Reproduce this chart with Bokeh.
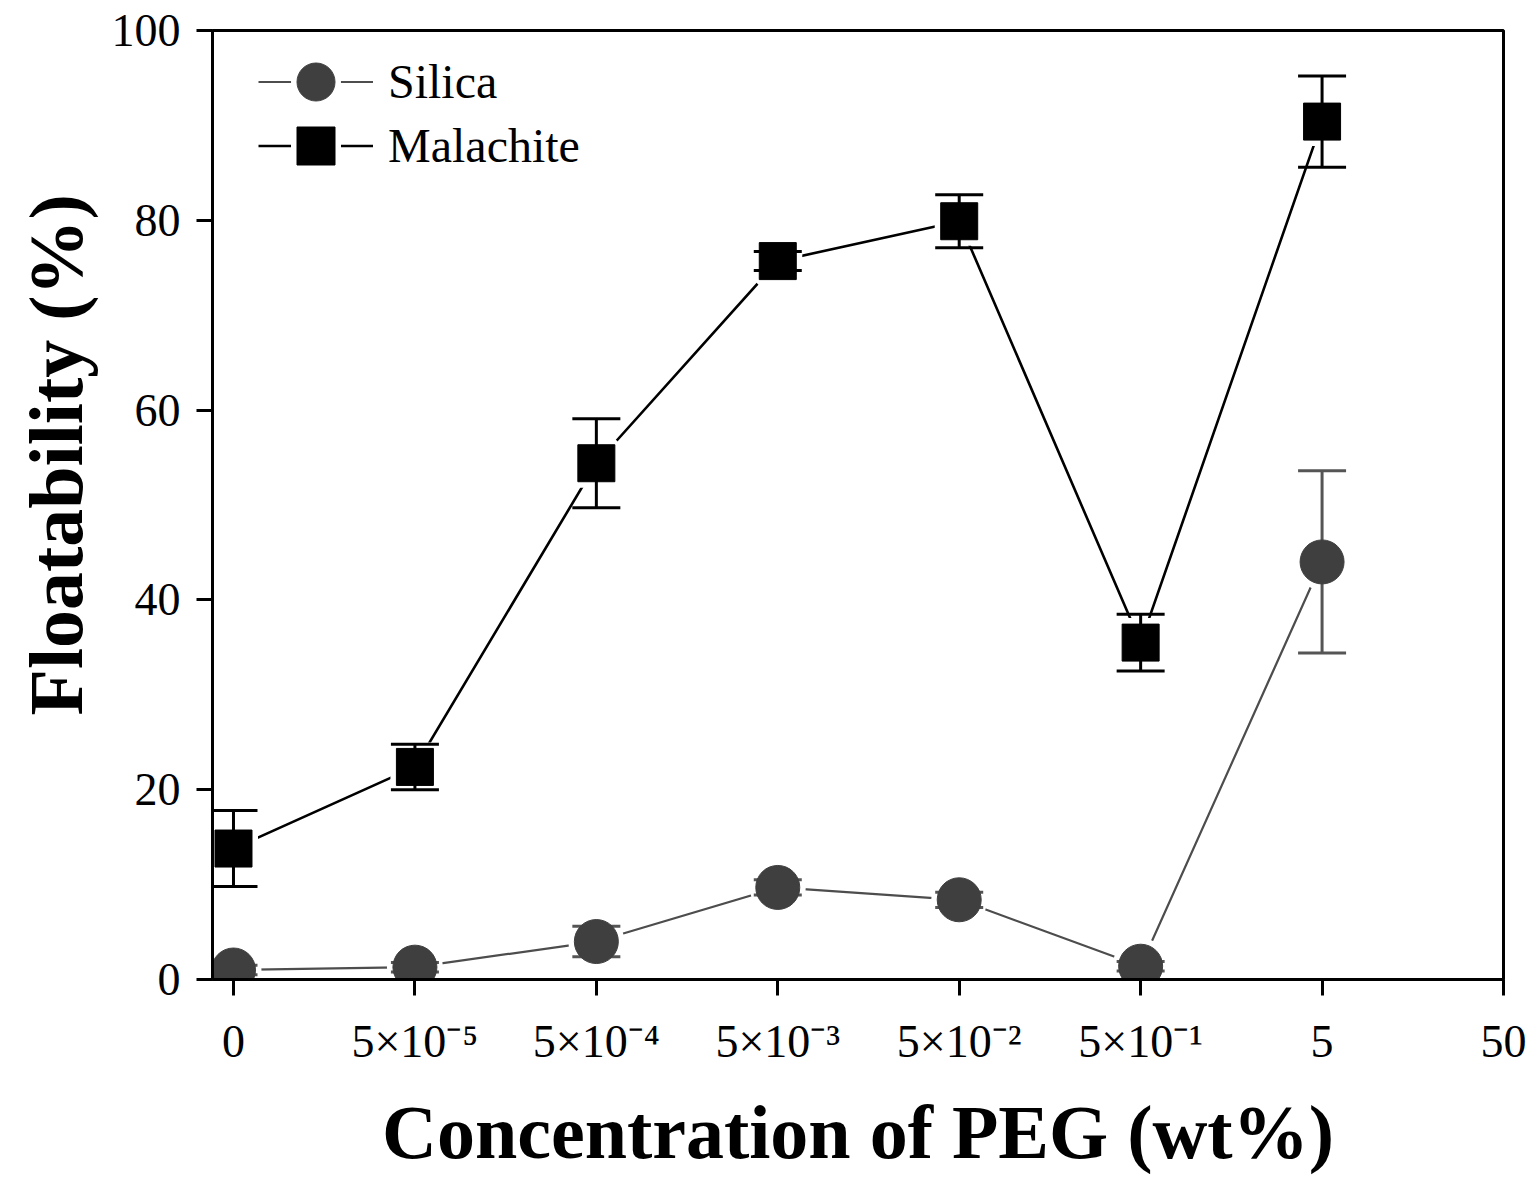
from bokeh.plotting import figure
from bokeh.models import ColumnDataSource, FixedTicker, Range1d, Legend, LegendItem, Title
from bokeh.embed import file_html
from bokeh.resources import INLINE

# ---- data ----
conc_labels = ["0", "5×10⁻⁵", "5×10⁻⁴", "5×10⁻³", "5×10⁻²", "5×10⁻¹", "5", "50"]
conc_pos = [0, 1, 2, 3, 4, 5, 6]

malachite = [13.8, 22.4, 54.4, 75.7, 79.9, 35.5, 90.4]
malachite_err = [4.0, 2.4, 4.7, 1.0, 2.8, 3.0, 4.8]

silica = [1.0, 1.3, 4.0, 9.7, 8.4, 1.4, 44.0]
silica_err = [0.5, 0.5, 1.6, 0.8, 0.8, 0.5, 9.6]

y_ticks = [0, 20, 40, 60, 80, 100]

FONT = "Liberation Serif"

mal_src = ColumnDataSource(dict(
    x=conc_pos, y=malachite,
    lo=[v - e for v, e in zip(malachite, malachite_err)],
    hi=[v + e for v, e in zip(malachite, malachite_err)],
))
sil_src = ColumnDataSource(dict(
    x=conc_pos, y=silica,
    lo=[v - e for v, e in zip(silica, silica_err)],
    hi=[v + e for v, e in zip(silica, silica_err)],
))

p = figure(width=1531, height=1183, output_backend="svg", toolbar_location=None,
           x_range=Range1d(-0.1157, 7.0), y_range=Range1d(0, 100),
           min_border_left=212, min_border_right=28, min_border_top=30, min_border_bottom=204)

p.background_fill_color = "white"
p.border_fill_color = "white"
p.grid.visible = False
p.outline_line_color = "black"
p.outline_line_width = 3

SIL_COL = "#3f3f3f"
SIL_LINE = "#4d4d4d"
SIL_ERR = "#555555"

# connecting lines
sil_line = p.line("x", "y", source=sil_src, line_color=SIL_LINE, line_width=2.2)
mal_line = p.line("x", "y", source=mal_src, line_color="black", line_width=2.6)

# white halos -> small gap between the lines and the markers
sil_halo = p.scatter("x", "y", source=sil_src, marker="circle", size=44,
                     fill_color="white", line_color="white", line_width=12)
mal_halo = p.scatter("x", "y", source=mal_src, marker="square", size=37,
                     fill_color="white", line_color="white", line_width=12)

# error bars (stems + caps)
p.segment(x0="x", y0="lo", x1="x", y1="hi", source=sil_src, line_color=SIL_ERR, line_width=3)
p.scatter("x", "lo", source=sil_src, marker="dash", size=48, line_color=SIL_ERR, line_width=3)
p.scatter("x", "hi", source=sil_src, marker="dash", size=48, line_color=SIL_ERR, line_width=3)
p.segment(x0="x", y0="lo", x1="x", y1="hi", source=mal_src, line_color="black", line_width=3)
p.scatter("x", "lo", source=mal_src, marker="dash", size=48, line_color="black", line_width=3)
p.scatter("x", "hi", source=mal_src, marker="dash", size=48, line_color="black", line_width=3)

# markers
sil_pts = p.scatter("x", "y", source=sil_src, marker="circle", size=44,
                    fill_color=SIL_COL, line_color=SIL_COL, line_width=1)
mal_pts = p.scatter("x", "y", source=mal_src, marker="square", size=37,
                    fill_color="black", line_color="black", line_width=1)

# axes
for ax in (p.xaxis, p.yaxis):
    ax.axis_line_width = 3
    ax.major_tick_line_width = 3
    ax.major_tick_out = 16
    ax.major_tick_in = 0
    ax.minor_tick_line_color = None
    ax.major_label_text_font = FONT
    ax.major_label_text_font_size = "46px"
    ax.major_label_text_color = "black"
    ax.axis_label_text_font = FONT
    ax.axis_label_text_font_style = "bold"
    ax.axis_label_text_font_size = "76px"
    ax.axis_label_text_color = "black"

p.xaxis.ticker = FixedTicker(ticks=list(range(len(conc_labels))))
p.xaxis.major_label_overrides = {i: lab for i, lab in enumerate(conc_labels)}
p.xaxis.major_label_standoff = 20
p.xaxis.axis_label = "Concentration of PEG (wt%)"
p.xaxis.axis_label_standoff = 20

p.yaxis.ticker = FixedTicker(ticks=y_ticks)
p.yaxis.major_label_standoff = 16

# y axis title, placed a little above the frame's centre as in the reference
ytitle = Title(text="Floatability (%)", align="left", offset=264, standoff=22,
               text_font=FONT, text_font_style="bold", text_font_size="76px",
               text_color="black")
p.add_layout(ytitle, "left")


def make_legend(label, renderers, y_bottom):
    lg = Legend(items=[LegendItem(label=label, renderers=renderers)], location=(46, y_bottom))
    lg.label_text_font = FONT
    lg.label_text_font_size = "48px"
    lg.label_text_color = "black"
    lg.glyph_width = 115
    lg.glyph_height = 95
    lg.label_height = 64
    lg.label_standoff = 15
    lg.spacing = 0
    lg.padding = 0
    lg.margin = 0
    lg.border_line_alpha = 0
    lg.background_fill_alpha = 0
    return lg


p.add_layout(make_legend("Silica", [sil_line, sil_halo, sil_pts], 850))
p.add_layout(make_legend("Malachite", [mal_line, mal_halo, mal_pts], 786))

open("out.html", "w").write(file_html(p, INLINE))
